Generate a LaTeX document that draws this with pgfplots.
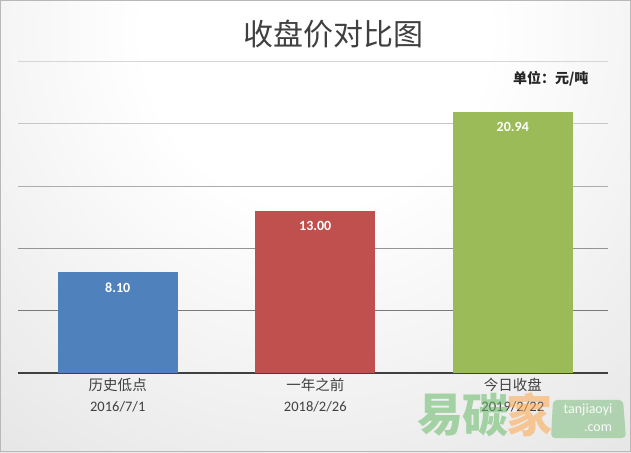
\documentclass[border=0pt]{standalone}
\usepackage{pgfplots}
\pgfplotsset{compat=1.18}
\usepackage{fontspec}
\setmainfont{Carlito}
\newfontfamily\cjk{Noto Sans CJK SC}
\newfontfamily\carlito{Carlito}
\definecolor{cblue}{HTML}{4F81BD}
\definecolor{cred}{HTML}{C0504D}
\definecolor{cgreen}{HTML}{9BBB59}
\definecolor{txt}{HTML}{404040}
\pgfdeclareradialshading{bgshade}{\pgfpoint{0bp}{0bp}}{color(0bp)=(white); color(6bp)=(white); color(25bp)=(black!15); color(37bp)=(black!27); color(50bp)=(black!31)}
\begin{document}
\begin{tikzpicture}
\begin{scope}
\clip (0pt,0pt) rectangle (631pt,452pt);
\shade[shading=bgshade] (-400pt,-300pt) rectangle (1031pt,1140pt);
\end{scope}
\draw[black!28, line width=1pt] (0.5pt,0.5pt) rectangle (630.5pt,451.5pt);
\begin{axis}[
  at={(18pt,79.3pt)}, anchor=south west,
  scale only axis, width=590pt, height=311pt,
  xmin=-0.505, xmax=2.482, ymin=0, ymax=25,
  axis y line=none,
  axis x line*=bottom,
  x axis line style={draw=txt, line width=2pt},
  ytick=\empty,
  xtick={0,1,2},
  xticklabels={{{\cjk 历史低点}\\{2016/7/1}},{{\cjk 一年之前}\\{2018/2/26}},{{\cjk 今日收盘}\\{2019/2/22}}},
  xticklabel style={align=center, font=\fontsize{14.5}{21}\selectfont, text=txt, yshift=-2pt},
  major tick length=0pt,
  ybar, bar width=120pt, bar shift=0pt,
  nodes near coords,
  /pgf/number format/assume math mode=true,
  /pgf/number format/fixed, /pgf/number format/fixed zerofill, /pgf/number format/precision=2,
  every node near coord/.append style={anchor=north, yshift=-7pt, font=\bfseries\fontsize{14}{14}\selectfont, text=white},
  clip=false,
]
\draw[black!16, line width=1pt] (axis cs:-0.505,25) -- (axis cs:2.482,25);
\draw[black!22, line width=1pt] (axis cs:-0.505,20) -- (axis cs:2.482,20);
\draw[black!32, line width=1pt] (axis cs:-0.505,15) -- (axis cs:2.482,15);
\draw[black!42, line width=1pt] (axis cs:-0.505,10) -- (axis cs:2.482,10);
\draw[black!52, line width=1pt] (axis cs:-0.505,5) -- (axis cs:2.482,5);
\addplot[fill=cblue, draw=none] coordinates {(0,8.10)};
\addplot[fill=cred, draw=none] coordinates {(1,13.00)};
\addplot[fill=cgreen, draw=none] coordinates {(2,20.94)};
\end{axis}
\node[text=txt, font=\cjk\fontsize{30}{30}\selectfont] at (333pt,418pt) {收盘价对比图};
\node[anchor=east, text=black!85, font=\cjk\bfseries\fontsize{14}{14}\selectfont] at (592pt,373pt) {单位：元/吨};
% watermark logo
\begin{scope}[opacity=0.55]
\node[font=\cjk\bfseries\fontsize{46}{46}\selectfont, text=green!55!black!60!white] at (440pt,37pt) {易};
\node[font=\cjk\bfseries\fontsize{46}{46}\selectfont, text=green!55!black!60!white] at (485pt,37pt) {碳};
\node[font=\cjk\bfseries\fontsize{46}{46}\selectfont, text=orange!70!white] at (529pt,37pt) {家};
\fill[green!50!black!50!white, rounded corners=4pt] (551pt,14pt) -- (626pt,14pt) -- (623pt,52pt) -- (553pt,52pt) -- cycle;
\end{scope}
\node[text=white, font=\fontsize{14}{14}\selectfont, opacity=0.9] at (588pt,42pt) {tanjiaoyi};
\node[text=white, font=\fontsize{14}{14}\selectfont, opacity=0.9] at (598pt,24pt) {.com};
\end{tikzpicture}
\end{document}
